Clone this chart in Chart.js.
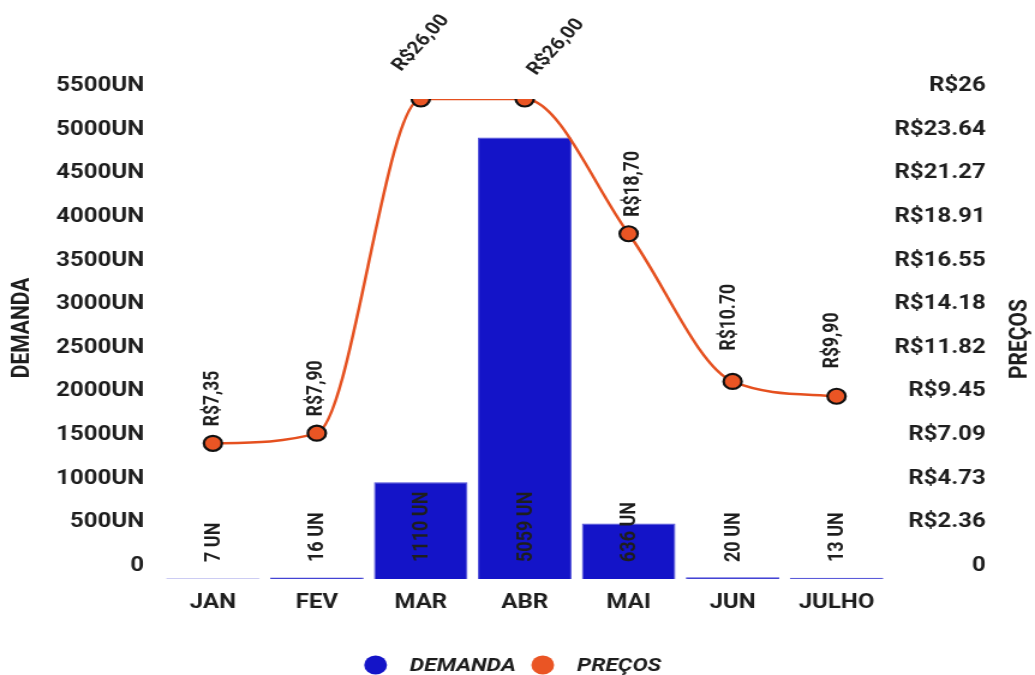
<!DOCTYPE html>
<html>
<head>
<meta charset="utf-8">
<script src="https://cdn.jsdelivr.net/npm/chart.js@4.4.0/dist/chart.umd.min.js"></script>
<style>
  html, body { margin: 0; padding: 0; background: #ffffff; overflow: hidden; }
  #chart { display: block; }
</style>
</head>
<body>
<canvas id="chart" width="862" height="675" style="width:1035px;height:675px"></canvas>
<script>
// Monthly demand (units) and unit price (R$)
const months = ['JAN', 'FEV', 'MAR', 'ABR', 'MAI', 'JUN', 'JULHO'];
const demandUnits = [7, 16, 1110, 5059, 636, 20, 13];
const prices = [7.35, 7.90, 26.00, 26.00, 18.70, 10.70, 9.90];
// decimal separator used in each price label
const priceSeparators = [',', ',', ',', ',', ',', '.', ','];

const demandTickLabels = ['0', '500UN', '1000UN', '1500UN', '2000UN', '2500UN', '3000UN',
  '3500UN', '4000UN', '4500UN', '5000UN', '5500UN'];
const priceTickLabels = ['0', 'R$2.36', 'R$4.73', 'R$7.09', 'R$9.45', 'R$11.82', 'R$14.18',
  'R$16.55', 'R$18.91', 'R$21.27', 'R$23.64', 'R$26'];

const seriesNames = ['DEMANDA', 'PREÇOS'];

// label styling for the price points: rotation (deg) and text start offset from the point
const priceLabelAngle = [-90, -90, -52, -52, -90, -90, -90];
const priceLabelAnchor = [[0, -17], [0, -17], [-20, -30], [6, -26], [4, -17], [-3, -31], [-3, -28]];

const TEXT = '#1e1e1e';
const FONT = 'Roboto, "Noto Sans", sans-serif';
const BAR_COLOR = '#1414c8';
const LINE_COLOR = '#e5501f';
const POINT_COLOR = '#ea5524';
const TITLE_SPACE = 41;   // room at the right for the price axis title

function priceText(i) {
  return 'R$' + prices[i].toFixed(2).replace('.', priceSeparators[i]);
}

const valueLabels = {
  id: 'valueLabels',
  afterDatasetsDraw(chart) {
    const ctx = chart.ctx;
    const area = chart.chartArea;
    // bar labels, vertical, starting near the baseline
    const barMeta = chart.getDatasetMeta(0);
    ctx.save();
    ctx.fillStyle = TEXT;
    ctx.font = 'bold 18px ' + FONT;
    ctx.textAlign = 'left';
    ctx.textBaseline = 'middle';
    barMeta.data.forEach((bar, i) => {
      ctx.save();
      ctx.translate(bar.x, area.bottom - 17);
      ctx.rotate(-Math.PI / 2);
      ctx.fillText(demandUnits[i] + ' UN', 0, 1);
      ctx.restore();
    });
    // price labels above each point
    const lineMeta = chart.getDatasetMeta(1);
    ctx.font = 'bold 17.5px ' + FONT;
    lineMeta.data.forEach((pt, i) => {
      const [dx, dy] = priceLabelAnchor[i];
      ctx.save();
      ctx.translate(pt.x + dx, pt.y + dy);
      ctx.rotate(priceLabelAngle[i] * Math.PI / 180);
      ctx.fillText(priceText(i), 0, 0);
      ctx.restore();
    });
    ctx.restore();
  },
  afterDraw(chart) {
    const ctx = chart.ctx;
    const area = chart.chartArea;
    const yL = chart.scales.y;
    const yR = chart.scales.y1;
    ctx.save();
    // axis titles, both reading bottom-to-top
    ctx.fillStyle = TEXT;
    ctx.font = 'bold 21px ' + FONT;
    ctx.textAlign = 'center';
    ctx.textBaseline = 'middle';
    ctx.save();
    ctx.translate(yL.left + 19, (area.top + area.bottom) / 2 - 11);
    ctx.rotate(-Math.PI / 2);
    ctx.fillText('DEMANDA', 0, 0);
    ctx.restore();
    ctx.save();
    ctx.translate(yR.right + TITLE_SPACE - 12, (area.top + area.bottom) / 2);
    ctx.rotate(-Math.PI / 2);
    ctx.fillText('PREÇOS', 0, 0);
    ctx.restore();

    // legend row under the axis
    const colors = [BAR_COLOR, POINT_COLOR];
    const r = 9.5, gapText = 19, gapItem = 13;
    ctx.font = 'italic bold 19px ' + FONT;
    ctx.textAlign = 'left';
    const widths = seriesNames.map(n => ctx.measureText(n).width);
    const total = widths.reduce((s, w) => s + 2 * r + gapText + w, 0) + gapItem;
    let x = 427 - total / 2;
    const y = chart.height - 10;
    seriesNames.forEach((name, i) => {
      ctx.beginPath();
      ctx.fillStyle = colors[i];
      ctx.arc(x + r, y, r, 0, Math.PI * 2);
      ctx.fill();
      ctx.fillStyle = TEXT;
      ctx.fillText(name, x + 2 * r + gapText, y + 1);
      x += 2 * r + gapText + widths[i] + gapItem;
    });
    ctx.restore();
  }
};

new Chart(document.getElementById('chart'), {
  data: {
    labels: months,
    datasets: [
      {
        type: 'bar',
        label: seriesNames[0],
        data: demandUnits,
        yAxisID: 'y',
        backgroundColor: BAR_COLOR,
        borderColor: '#4a4ad8',
        borderWidth: 1,
        barPercentage: 0.9,
        categoryPercentage: 1.0,
        order: 1
      },
      {
        type: 'line',
        label: seriesNames[1],
        data: prices,
        yAxisID: 'y1',
        borderColor: LINE_COLOR,
        backgroundColor: POINT_COLOR,
        borderWidth: 2.5,
        cubicInterpolationMode: 'monotone',
        pointRadius: 7.5,
        pointHoverRadius: 7.5,
        pointBackgroundColor: POINT_COLOR,
        pointBorderColor: '#111111',
        pointBorderWidth: 2.2,
        order: 0
      }
    ]
  },
  options: {
    responsive: false,
    animation: false,
    events: [],
    layout: { padding: { top: 99, left: 0, right: TITLE_SPACE, bottom: 56 } },
    scales: {
      x: {
        offset: true,
        grid: { display: false, drawTicks: false },
        border: { display: false },
        ticks: { color: TEXT, font: { family: FONT, size: 20, weight: 'bold' }, padding: 12, maxRotation: 0 },
        afterFit(scale) { scale.height = 40; }
      },
      y: {
        position: 'left',
        min: 0, max: 5500,
        grid: { display: false, drawTicks: false },
        border: { display: false },
        ticks: {
          stepSize: 500,
          color: TEXT,
          font: { family: FONT, size: 20, weight: 'bold' },
          padding: 14,
          labelOffset: -13,
          callback: (v, i) => demandTickLabels[i]
        },
        afterFit(scale) { scale.width = 134; }
      },
      y1: {
        position: 'right',
        min: 0, max: 26,
        grid: { display: false, drawTicks: false },
        border: { display: false },
        ticks: {
          stepSize: 26 / 11,
          color: TEXT,
          font: { family: FONT, size: 20, weight: 'bold' },
          padding: 7,
          crossAlign: 'far',
          labelOffset: -13,
          callback: (v, i) => priceTickLabels[i]
        },
        afterFit(scale) { scale.width = 81; }
      }
    },
    plugins: {
      legend: { display: false },
      tooltip: { enabled: false }
    }
  },
  plugins: [valueLabels]
});
</script>
</body>
</html>
